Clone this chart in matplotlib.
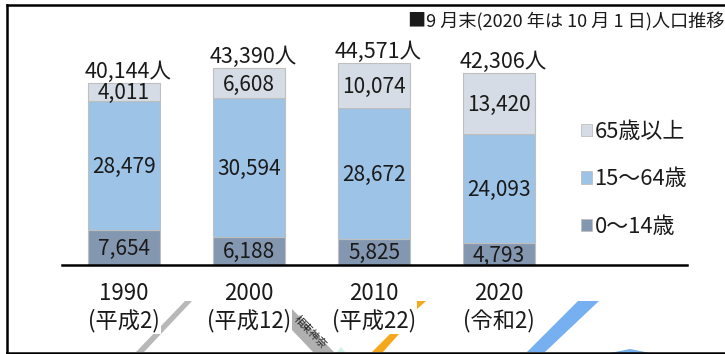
import numpy as np
import matplotlib
matplotlib.use("Agg")
import matplotlib.pyplot as plt
from matplotlib.lines import Line2D
from matplotlib.patches import Patch, Polygon

plt.rcParams['font.family'] = ['Noto Sans CJK JP', 'DejaVu Sans']

years = ['1990\n(平成2)', '2000\n(平成12)', '2010\n(平成22)', '2020\n(令和2)']
young = [7654, 6188, 5825, 4793]
working = [28479, 30594, 28672, 24093]
old = [4011, 6608, 10074, 13420]
totals = [40144, 43390, 44571, 42306]
names = ['0〜14歳', '15〜64歳', '65歳以上']
colors = ['#8497B0', '#9DC3E6', '#D6DCE5']
title = '■9 月末(2020 年は 10 月 1 日)人口推移'

W, H = 725, 354


def px(x, y):
    return x / W, (H - y) / H


fig = plt.figure(figsize=(W / 100, H / 100), dpi=100)
ax = fig.add_axes([61.5 / W, (H - 265) / H, 625 / W, 245 / H])
ax.patch.set_alpha(0)

# bits of the map that sits behind the chart
for pts, c in [([(185, 301), (192, 301), (144, 352), (136, 352)], '#B8B8B8'),
               ([(416, 301), (426, 301), (415, 311)], '#F5A81C'),
               ([(390, 334), (399, 334), (383, 352), (372, 352)], '#F5A81C'),
               ([(578, 301), (599, 301), (545, 352), (527, 352)], '#76B0F0'),
               ([(610, 353), (630, 349), (650, 353)], '#76B0F0'),
               ([(336, 353), (341, 347), (346, 353)], '#D5F0E4'),
               ([(290, 309), (292, 309), (334, 352), (313, 352), (290, 328)], '#B0B0B0')]:
    fig.add_artist(Polygon([px(*p) for p in pts], closed=True, transform=fig.transFigure,
                           facecolor=c, edgecolor='none', zorder=-1))
fig.text(*px(310, 332), '相東神奈', fontsize=7.5, rotation=-46, color='#222222',
         ha='center', va='center', rotation_mode='anchor', zorder=-0.5)

# frame
for xs, ys, in [((7, 7), (4.5, 353)), ((7, 725), (5, 5)), ((7, 725), (352.5, 352.5))]:
    fig.add_artist(Line2D([x / W for x in xs], [(H - y) / H for y in ys],
                          color='black', lw=1.8, transform=fig.transFigure))

x = np.arange(4)
bottom = np.zeros(4)
for vals, c, name in zip([young, working, old], colors, names):
    b = ax.bar(x, vals, 0.576, bottom=bottom, color=c, edgecolor='#BFBFBF', linewidth=0.8, label=name)
    ax.bar_label(b, labels=[f'{v:,}' for v in vals], label_type='center', fontsize=15, color='#1A1A1A',
                 padding=-1)
    bottom += np.array(vals)

for i, t in enumerate(totals):
    ax.annotate(f'{t:,}人', (i, t), xytext=(3, 7.8), textcoords='offset points',
                ha='center', va='center', fontsize=15.5, color='#1A1A1A')

ax.set_xlim(-0.5, 4.5)
ax.set_ylim(0, 54000)
ax.set_yticks([])
ax.set_xticks(x)
ax.set_xticklabels(years, fontsize=16, color='#1A1A1A', linespacing=1.2)
ax.tick_params(axis='x', length=0, pad=12.2)
for lab in ax.get_xticklabels():
    lab.set_bbox(dict(facecolor='white', edgecolor='none', pad=1))
for s in ['top', 'left', 'right']:
    ax.spines[s].set_visible(False)
ax.spines['bottom'].set_linewidth(1.8)

handles = [Patch(facecolor=c, edgecolor='#BFBFBF', linewidth=0.6) for c in colors[::-1]]
ax.legend(handles, names[::-1], loc='center left', bbox_to_anchor=(0.80, 0.35), frameon=False,
          fontsize=15.8, handlelength=0.5, handleheight=0.5, handletextpad=0.1,
          labelspacing=1.16, labelcolor='#1A1A1A')

fig.text(*px(724, 22), title, fontsize=13.1, ha='right', va='center', color='#1A1A1A')

fig.savefig('out.png', dpi=100)
